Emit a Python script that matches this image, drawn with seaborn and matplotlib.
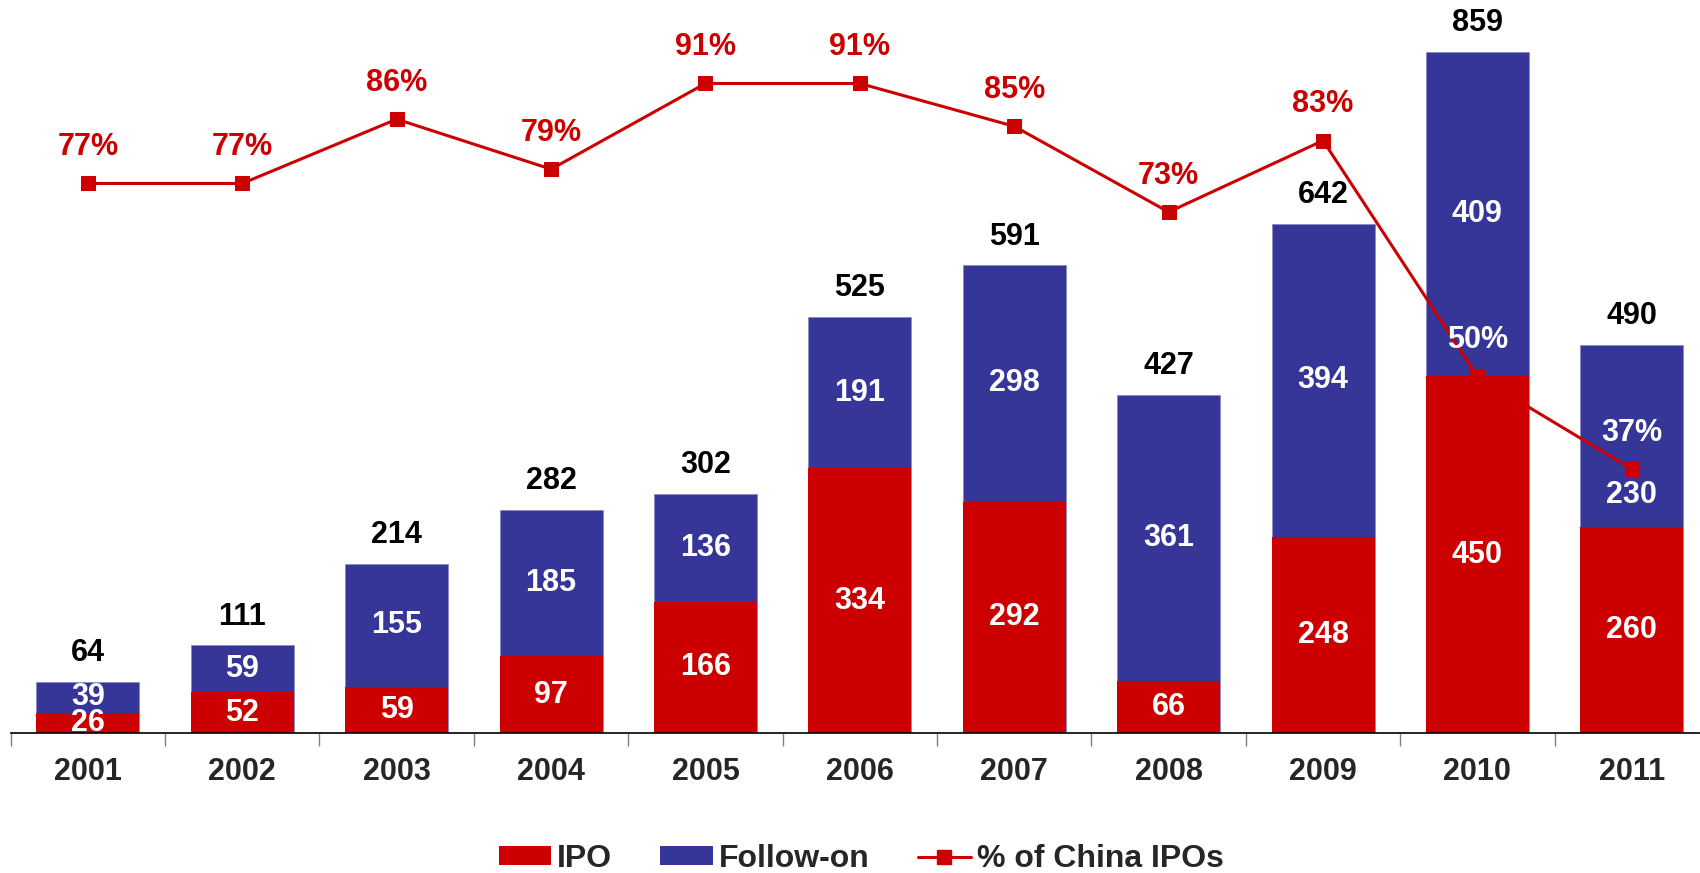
import numpy as np
import pandas as pd
import matplotlib
matplotlib.use("Agg")
import matplotlib.pyplot as plt
from matplotlib.patches import Patch
from matplotlib.lines import Line2D
import seaborn as sns

# Deal counts by year
years = ["2001", "2002", "2003", "2004", "2005", "2006", "2007", "2008", "2009", "2010", "2011"]
ipo = [26, 52, 59, 97, 166, 334, 292, 66, 248, 450, 260]
follow_on = [39, 59, 155, 185, 136, 191, 298, 361, 394, 409, 230]
totals = [64, 111, 214, 282, 302, 525, 591, 427, 642, 859, 490]
china_ipo_pct = [77, 77, 86, 79, 91, 91, 85, 73, 83, 50, 37]

RED = "#CC0000"
BLUE = "#363699"
FS = 22

sns.set_theme(style="white")
plt.rcParams["font.family"] = ["Liberation Sans", "DejaVu Sans"]
plt.rcParams["font.weight"] = "bold"

df = pd.DataFrame({"year": years, "ipo": ipo, "follow_on": follow_on})
df["stack_top"] = df["ipo"] + df["follow_on"]

fig = plt.figure(figsize=(17, 8.73), dpi=100)
ax = fig.add_axes([0.0063, 0.160, 0.999, 0.818])

# Stacked bars: full stack in blue, IPO portion in red over its lower part
sns.barplot(data=df, x="year", y="stack_top", color=BLUE, width=0.667,
            saturation=1, ax=ax, edgecolor="#8a8ac8", linewidth=0.6)
sns.barplot(data=df, x="year", y="ipo", color=RED, width=0.667,
            saturation=1, ax=ax, linewidth=0)

ax.set_ylim(0, 900)
ax.set_xlim(-0.5, len(years) - 0.5)
ax.set_xlabel("")
ax.set_ylabel("")
ax.set_yticks([])
for s in ["top", "right", "left"]:
    ax.spines[s].set_visible(False)
ax.spines["bottom"].set_color("black")
ax.spines["bottom"].set_linewidth(1.2)

# Ticks sit between categories
ax.set_xticks(np.arange(-0.5, len(years), 1.0), minor=True)
ax.tick_params(axis="x", which="minor", length=9, width=1, color="#808080", direction="out", bottom=True)
ax.tick_params(axis="x", which="major", length=0, pad=17, labelsize=FS)
for lbl in ax.get_xticklabels():
    lbl.set_fontweight("bold")

x = np.arange(len(years))
for i in x:
    ax.text(i, ipo[i] / 2, str(ipo[i]), ha="center", va="center", color="white",
            fontsize=FS, fontweight="bold")
    # the last follow-on label is nudged down to clear the percentage label above it
    dy = -43 if i == len(years) - 1 else 0
    ax.annotate(str(follow_on[i]), (i, ipo[i] + follow_on[i] / 2), xytext=(0, dy),
                textcoords="offset points", ha="center", va="center",
                color="white", fontsize=FS, fontweight="bold")
    ax.annotate(str(totals[i]), (i, ipo[i] + follow_on[i]), xytext=(0, 20.5),
                textcoords="offset points", ha="center", va="center",
                fontsize=FS, fontweight="bold", color="black")

# Share of China IPOs on a secondary scale
ax2 = ax.twinx()
pct_df = pd.DataFrame({"x": x, "pct": china_ipo_pct})
sns.lineplot(data=pct_df, x="x", y="pct", ax=ax2, color=RED, linewidth=2.2,
             marker="s", markersize=10.5, markeredgecolor=RED, markerfacecolor=RED)
ax2.set_ylim(0, 100)
ax2.set_yticks([])
ax2.set_ylabel("")
ax2.set_xlabel("")
for s in ax2.spines.values():
    s.set_visible(False)
for i in x:
    col = "white" if china_ipo_pct[i] < 60 else RED
    ax2.annotate(f"{china_ipo_pct[i]}%", (i, china_ipo_pct[i]), xytext=(0, 26),
                 textcoords="offset points", ha="center", va="center",
                 fontsize=FS, fontweight="bold", color=col)

handles = [
    Patch(facecolor=RED, edgecolor="none", label="IPO"),
    Patch(facecolor=BLUE, edgecolor="none", label="Follow-on"),
    Line2D([0], [0], color=RED, linewidth=2.2, marker="s", markersize=10.5, label="% of China IPOs"),
]
fig.legend(handles=handles, loc="center", bbox_to_anchor=(0.5065, 0.016), ncol=3,
           frameon=False, handlelength=1.65, handleheight=0.53,
           handletextpad=0.19, columnspacing=1.5, prop={"weight": "bold", "size": 23})

fig.savefig("out.png", dpi=100)
